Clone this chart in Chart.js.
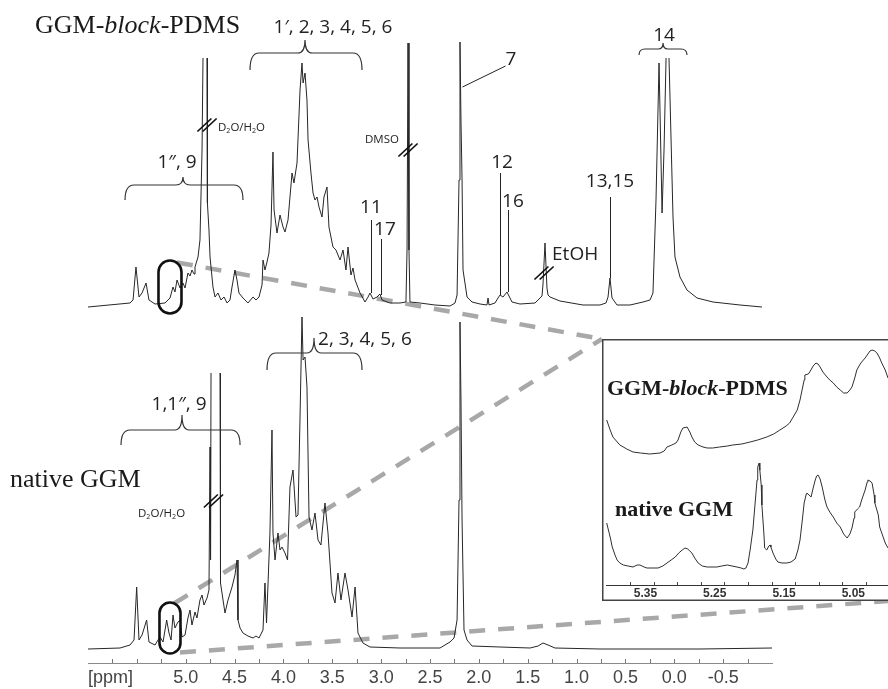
<!DOCTYPE html>
<html><head><meta charset="utf-8">
<script src="https://cdn.jsdelivr.net/npm/chart.js@4.4.1/dist/chart.umd.min.js"></script>
<style>
html,body{margin:0;padding:0;background:#fff;overflow:hidden;width:888px;height:689px;}
#wrap{position:relative;width:888px;height:689px;overflow:hidden;background:#fff;}
#main{position:absolute;left:0;top:0;width:888px;height:689px;}
#inset{position:absolute;left:602px;top:339px;width:300px;height:262px;}
</style></head><body>
<div id="wrap">
<canvas id="main" width="888" height="689"></canvas>
<canvas id="inset" width="300" height="262"></canvas>
</div>
<script>
// ---------------- DATA (chemical shift in ppm, intensity in a.u.) ----------------
const topPpm = [6.000,5.570,5.539,5.509,5.478,5.447,5.406,5.376,5.314,5.212,
5.161,5.130,5.110,5.089,5.058,5.028,5.007,4.977,4.956,4.936,
4.915,4.905,4.874,4.854,4.833,4.823,4.802,4.782,4.778,4.762,
4.751,4.721,4.700,4.670,4.639,4.608,4.577,4.547,4.526,4.496,
4.475,4.455,4.414,4.363,4.311,4.281,4.250,4.219,4.209,4.189,
4.168,4.148,4.127,4.107,4.096,4.066,4.035,4.004,3.984,3.953,
3.912,3.892,3.861,3.830,3.810,3.799,3.779,3.759,3.748,3.718,
3.697,3.677,3.656,3.636,3.605,3.585,3.554,3.534,3.493,3.462,
3.421,3.390,3.360,3.339,3.309,3.288,3.267,3.216,3.165,3.134,
3.114,3.083,3.042,3.012,2.991,2.909,2.807,2.746,2.735,2.725,
2.715,2.705,2.602,2.449,2.295,2.244,2.223,2.203,2.193,2.183,
2.172,2.162,2.121,2.070,1.988,1.917,1.906,1.896,1.835,1.804,
1.783,1.753,1.712,1.661,1.579,1.425,1.354,1.344,1.323,1.303,
1.292,1.272,1.170,0.934,0.760,0.699,0.678,0.658,0.637,0.586,
0.453,0.320,0.248,0.218,0.187,0.156,0.125,0.105,0.084,0.069,
0.054,0.013,-0.007,-0.058,-0.130,-0.233,-0.396,-0.673,-0.898];
const topIntensity = [-2,2,5,38,8,12,22,5,1,2,
7,18,13,25,17,22,17,32,29,35,
31,38,48,65,155,247,null,247,102,75,
48,18,8,12,5,8,2,5,18,35,
25,12,7,2,8,5,8,20,45,35,
43,52,80,153,95,72,90,78,73,85,
132,122,142,215,242,222,232,205,165,132,
112,105,108,98,88,108,118,78,58,55,
45,55,35,58,30,37,25,12,3,8,
12,6,8,11,5,2,2,3,55,262,
55,3,2,0,-1,2,10,125,263,185,
125,35,8,3,1,0,7,0,2,7,
10,8,13,3,1,2,9,20,62,17,
10,8,4,0,0,2,8,27,7,0,
0,3,5,12,105,242,92,155,247,null,
247,88,48,28,15,7,3,0,-2];

const botPpm = [6.000,5.672,5.570,5.529,5.502,5.478,5.447,5.400,5.376,5.314,
5.283,5.263,5.232,5.195,5.171,5.150,5.130,5.110,5.079,5.058,
5.038,5.007,4.977,4.956,4.936,4.905,4.885,4.854,4.833,4.813,
4.782,4.762,4.751,4.746,4.741,4.695,4.649,4.644,4.618,4.598,
4.567,4.526,4.496,4.475,4.465,4.444,4.414,4.363,4.311,4.281,
4.250,4.209,4.189,4.173,4.138,4.117,4.107,4.086,4.056,4.035,
4.015,3.984,3.958,3.933,3.902,3.871,3.851,3.830,3.810,3.799,
3.779,3.759,3.738,3.708,3.677,3.646,3.616,3.575,3.544,3.503,
3.472,3.442,3.411,3.370,3.339,3.298,3.267,3.237,3.186,3.114,
2.807,2.398,2.295,2.254,2.223,2.203,2.193,2.183,2.172,2.152,
2.121,2.070,1.783,1.476,1.394,1.344,1.292,1.221,0.760,0.248,
-0.263,-1.000];
const botIntensity = [-1,0,3,8,61,8,13,28,6,3,
8,11,6,28,15,8,33,20,26,28,
11,13,30,38,23,36,30,48,53,43,
50,58,201,88,275,null,275,65,48,35,
48,61,73,88,28,20,15,12,10,12,
10,18,65,25,115,218,115,88,115,98,
101,95,88,161,178,131,133,231,331,288,
291,261,131,118,135,108,103,145,115,55,
45,75,48,75,58,31,61,15,5,1,
0,0,6,10,28,148,326,248,128,18,
8,2,1,0,2,5,3,0,-1,-1,
-1,0];

const insetTopPpm = [5.406,5.401,5.397,5.387,5.377,5.368,5.357,5.344,5.329,5.323,
5.319,5.312,5.306,5.303,5.299,5.296,5.290,5.286,5.283,5.279,
5.274,5.267,5.261,5.253,5.243,5.232,5.224,5.211,5.199,5.188,
5.175,5.165,5.156,5.147,5.142,5.136,5.131,5.127,5.124,5.121,
5.120,5.115,5.113,5.108,5.104,5.101,5.098,5.094,5.088,5.084,
5.079,5.074,5.069,5.064,5.059,5.055,5.052,5.048,5.045,5.041,
5.038,5.033,5.030,5.026,5.023,5.019,5.016,5.012,5.009,5.004,5.000];
const insetTopIntensity = [35,25,18,10,6,3,2,1,2,4,
8,10,12,15,23,27,28,23,18,13,
10,8,7,7,8,9,10,11,13,15,
18,21,25,29,32,39,45,55,65,75,
80,81,83,89,92,91,88,83,78,75,
72,68,65,62,62,65,68,77,85,90,
93,97,100,104,105,104,102,97,92,85,77];

const insetBotPpm = [5.406,5.401,5.398,5.394,5.391,5.387,5.382,5.375,5.368,5.362,
5.358,5.352,5.348,5.341,5.332,5.325,5.319,5.313,5.307,5.302,
5.297,5.293,5.289,5.286,5.283,5.279,5.274,5.268,5.261,5.254,
5.247,5.240,5.232,5.225,5.218,5.212,5.208,5.205,5.202,5.199,
5.195,5.192,5.189,5.188,5.186,5.185,5.183,5.182,5.179,5.178,
5.175,5.172,5.170,5.169,5.166,5.162,5.159,5.153,5.146,5.140,
5.134,5.130,5.127,5.124,5.121,5.118,5.117,5.114,5.111,5.108,
5.105,5.103,5.101,5.098,5.095,5.091,5.088,5.084,5.079,5.074,
5.069,5.064,5.059,5.055,5.052,5.049,5.048,5.044,5.041,5.038,
5.033,5.030,5.029,5.026,5.023,5.020,5.019,5.014,5.012,5.007,
5.004,5.000];
const insetBotIntensity = [45,31,21,13,8,5,3,2,1,3,
3,1,0,0,0,2,5,8,11,15,
18,20,19,17,15,10,5,2,1,1,
1,2,3,2,1,0,-1,0,5,18,
38,63,88,101,105,98,83,63,33,20,
18,22,23,21,15,9,6,5,5,6,
9,18,28,46,65,74,75,73,71,80,
88,92,93,89,81,68,61,56,51,45,
41,34,30,34,40,50,56,59,61,68,
78,86,88,87,85,73,65,53,41,31,
25,20];

const axisLabelValues = [5.0,4.5,4.0,3.5,3.0,2.5,2.0,1.5,1.0,0.5,0.0,-0.5];
const axisTickMarks = [5.75,5.5,5.25,5.0,4.75,4.5,4.25,4.0,3.75,3.5,3.25,3.0,2.75,2.5,2.25,2.0,1.75,1.5,1.25,1.0,0.75,0.5,0.25,0.0,-0.25,-0.5,-0.75];
const insetLabelValues = [5.35,5.25,5.15,5.05];
const insetTickMarks = [5.372,5.338,5.304,5.270,5.236,5.202,5.168,5.134,5.100,5.066,5.032];

// ---------------- ANNOTATIONS (positions in ppm / intensity units) ----------------
const SANS = '"Open Sans","Liberation Sans",sans-serif';
const SERIF = '"Liberation Serif","Times New Roman",serif';
const INSET = {left:602, top:339, width:300, height:262};

const topLabels = [
  {text:'1\u2032, 2, 3, 4, 5, 6', ppm:3.493, v:272},
  {text:'1\u2033, 9', ppm:5.089, v:137},
  {text:'14', ppm:0.105, v:264},
  {text:'11', ppm:3.104, v:92},
  {text:'17', ppm:2.961, v:70},
  {text:'12', ppm:1.763, v:137},
  {text:'16', ppm:1.651, v:98},
  {text:'13,15', ppm:0.658, v:118},
  {text:'7', ppm:1.671, v:240},
  {text:'EtOH', ppm:1.251, v:45, left:true}
];
const botLabels = [
  {text:'1,1\u2033, 9', ppm:5.068, v:238},
  {text:'2, 3, 4, 5, 6', ppm:3.646, v:303, left:true}
];
const topBraces = [
  {left:5.621, right:4.414, tip:5.028, end:105, bar:120, top:128},
  {left:4.342, right:3.196, tip:3.779, end:235, bar:252, top:265},
  {left:0.361, right:-0.130, tip:0.115, end:250, bar:256, top:262}
];
const botBraces = [
  {left:5.662, right:4.444, tip:5.038, end:203, bar:218, top:233},
  {left:4.168, right:3.196, tip:3.687, end:278, bar:295, top:310}
];
const topLeaders = [
  {x1:3.104, v1:85, x2:3.104, v2:12},
  {x1:3.001, v1:66, x2:3.001, v2:10},
  {x1:1.783, v1:132, x2:1.783, v2:10},
  {x1:1.702, v1:95, x2:1.702, v2:13},
  {x1:0.660, v1:108, x2:0.660, v2:27},
  {x1:2.175, v1:218, x2:1.733, v2:239}
];
const topBreaks = [{ppm:4.782, v:180}, {ppm:2.725, v:155}, {ppm:1.333, v:32}];
const botBreaks = [{ppm:4.716, v:147}];
const solventLabels = [
  {parts:[['D'],['2',1],['O/H'],['2',1],['O']], ppm:4.670, v:174, axis:'yTop'},
  {parts:[['DMSO']], ppm:3.165, v:162, axis:'yTop'},
  {parts:[['D'],['2',1],['O/H'],['2',1],['O']], ppm:5.488, v:131, axis:'yBot'}
];
const topStadium = {ppm:5.161, v:18, w:23, h:53};
const botStadium = {ppm:5.161, v:20, w:21, h:51};

// ---------------- helpers ----------------
function xy(xs, ys){ return xs.map((x,i)=>({x:x, y:ys[i]})); }
function drawRich(ctx, parts, x, y, size, family, weight){
  let cx = x;
  parts.forEach(p=>{
    const sub = p[1] === 1;
    const it = p[1] === 'i';
    const s = sub ? size*0.62 : size;
    ctx.font = (it ? 'italic ' : '') + (weight||'') + ' ' + s + 'px ' + family;
    ctx.fillText(p[0], cx, y + (sub ? size*0.2 : 0));
    cx += ctx.measureText(p[0]).width;
  });
}
function brace(ctx, xl, xr, xm, yEnd, yBar, yTip){
  const r = Math.min(9, Math.abs(yEnd - yBar));
  ctx.beginPath();
  ctx.moveTo(xl, yEnd);
  ctx.quadraticCurveTo(xl, yBar, xl + r, yBar);
  ctx.lineTo(xm - r*0.8, yBar);
  ctx.quadraticCurveTo(xm, yBar, xm, yTip);
  ctx.quadraticCurveTo(xm, yBar, xm + r*0.8, yBar);
  ctx.lineTo(xr - r, yBar);
  ctx.quadraticCurveTo(xr, yBar, xr, yEnd);
  ctx.stroke();
}
function breakMark(ctx, cx, cy){
  ctx.beginPath();
  [-2.6, 2.6].forEach(o=>{
    ctx.moveTo(cx + o - 7, cy + 6.5);
    ctx.lineTo(cx + o + 7, cy - 6.5);
  });
  ctx.stroke();
}
function stadiumPx(chart, s, axis){
  return {cx: chart.scales.x.getPixelForValue(s.ppm), cy: chart.scales[axis].getPixelForValue(s.v), w:s.w, h:s.h};
}

const mainDecor = {
  id:'mainDecor',
  beforeDatasetsDraw(chart){
    const ctx = chart.ctx;
    const t = stadiumPx(chart, topStadium, 'yTop');
    const b = stadiumPx(chart, botStadium, 'yBot');
    const segs = [
      [t.cx + 7, t.cy - t.h/2 + 2, INSET.left, INSET.top],
      [b.cx + 4, b.cy - b.h/2 + 1, INSET.left, INSET.top],
      [b.cx + 10, b.cy + b.h/2 - 1, INSET.left + INSET.width, INSET.top + INSET.height - 1]
    ];
    ctx.save();
    ctx.strokeStyle = '#a8a8a8'; ctx.lineWidth = 4.5; ctx.setLineDash([16,13]);
    segs.forEach(s=>{ ctx.beginPath(); ctx.moveTo(s[0], s[1]); ctx.lineTo(s[2], s[3]); ctx.stroke(); });
    ctx.restore();
  },
  afterDatasetsDraw(chart){
    const ctx = chart.ctx, X = chart.scales.x, YT = chart.scales.yTop, YB = chart.scales.yBot;
    ctx.save();
    ctx.strokeStyle = '#111'; ctx.lineWidth = 2.6;
    [stadiumPx(chart, topStadium, 'yTop'), stadiumPx(chart, botStadium, 'yBot')].forEach(s=>{
      ctx.beginPath(); ctx.roundRect(s.cx - s.w/2, s.cy - s.h/2, s.w, s.h, s.w/2); ctx.stroke();
    });
    ctx.strokeStyle = '#333'; ctx.lineWidth = 1.2;
    topBraces.forEach(b=>brace(ctx, X.getPixelForValue(b.left), X.getPixelForValue(b.right), X.getPixelForValue(b.tip), YT.getPixelForValue(b.end), YT.getPixelForValue(b.bar), YT.getPixelForValue(b.top)));
    botBraces.forEach(b=>brace(ctx, X.getPixelForValue(b.left), X.getPixelForValue(b.right), X.getPixelForValue(b.tip), YB.getPixelForValue(b.end), YB.getPixelForValue(b.bar), YB.getPixelForValue(b.top)));
    ctx.strokeStyle = '#222'; ctx.lineWidth = 1;
    topLeaders.forEach(l=>{
      ctx.beginPath();
      ctx.moveTo(Math.round(X.getPixelForValue(l.x1)) + 0.5, YT.getPixelForValue(l.v1));
      ctx.lineTo(Math.round(X.getPixelForValue(l.x2)) + 0.5, YT.getPixelForValue(l.v2));
      ctx.stroke();
    });
    ctx.strokeStyle = '#111'; ctx.lineWidth = 1.7;
    topBreaks.forEach(m=>breakMark(ctx, X.getPixelForValue(m.ppm), YT.getPixelForValue(m.v)));
    botBreaks.forEach(m=>breakMark(ctx, X.getPixelForValue(m.ppm), YB.getPixelForValue(m.v)));
    ctx.fillStyle = '#222'; ctx.textBaseline = 'alphabetic';
    ctx.font = '19px ' + SANS;
    topLabels.forEach(l=>{ ctx.textAlign = l.left ? 'left' : 'center'; ctx.fillText(l.text, X.getPixelForValue(l.ppm), YT.getPixelForValue(l.v)); });
    botLabels.forEach(l=>{ ctx.textAlign = l.left ? 'left' : 'center'; ctx.fillText(l.text, X.getPixelForValue(l.ppm), YB.getPixelForValue(l.v)); });
    ctx.textAlign = 'left';
    solventLabels.forEach(s=>drawRich(ctx, s.parts, X.getPixelForValue(s.ppm), chart.scales[s.axis].getPixelForValue(s.v), 11.5, SANS, ''));
    ctx.fillStyle = '#1a1a1a';
    drawRich(ctx, [['GGM-'],['block','i'],['-PDMS']], 35, 33, 26, SERIF, '');
    drawRich(ctx, [['native GGM']], 10, 487, 26, SERIF, '');
    const bottom = chart.chartArea.bottom;
    ctx.strokeStyle = '#777'; ctx.lineWidth = 1;
    axisTickMarks.forEach(v=>{
      const p = Math.round(X.getPixelForValue(v)) + 0.5;
      ctx.beginPath(); ctx.moveTo(p, bottom); ctx.lineTo(p, bottom - 4); ctx.stroke();
    });
    ctx.fillStyle = '#444'; ctx.font = '18px "Liberation Sans",Arial,sans-serif';
    ctx.textAlign = 'center'; ctx.textBaseline = 'middle';
    ctx.fillText('[ppm]', X.getPixelForValue(5.77), bottom + 15);
    ctx.restore();
  }
};

const lineStyle = {borderColor:'#262626', borderWidth:1, pointRadius:0, tension:0, spanGaps:false, borderJoinStyle:'round', fill:false};

new Chart(document.getElementById('main'), {
  type:'line',
  data:{datasets:[
    Object.assign({label:'GGM-block-PDMS', data:xy(topPpm, topIntensity), yAxisID:'yTop'}, lineStyle),
    Object.assign({label:'native GGM', data:xy(botPpm, botIntensity), yAxisID:'yBot'}, lineStyle)
  ]},
  options:{
    responsive:false, animation:false, devicePixelRatio:1,
    layout:{padding:{left:88, right:116, top:0, bottom:0}},
    plugins:{legend:{display:false}, tooltip:{enabled:false}},
    scales:{
      x:{type:'linear', reverse:true, min:-1.0, max:6.0,
        grid:{display:false, drawTicks:false}, border:{display:true, color:'#8a8a8a', width:1},
        afterBuildTicks:(s)=>{ s.ticks = axisLabelValues.map(v=>({value:v})); },
        afterFit:(s)=>{ s.height = 26; },
        ticks:{autoSkip:false, maxRotation:0, padding:4, color:'#444',
          font:{family:'"Liberation Sans",Arial,sans-serif', size:18},
          callback:(v)=>Number(v).toFixed(1)}
      },
      yTop:{type:'linear', display:false, min:-358, max:305},
      yBot:{type:'linear', display:false, min:-15, max:648}
    }
  },
  plugins:[mainDecor]
});

const insetDecor = {
  id:'insetDecor',
  beforeDraw(chart){
    const ctx = chart.ctx;
    ctx.save(); ctx.fillStyle = '#fff'; ctx.fillRect(0, 0, chart.width, chart.height); ctx.restore();
  },
  afterDraw(chart){
    const ctx = chart.ctx, X = chart.scales.x, bottom = chart.chartArea.bottom;
    ctx.save();
    ctx.strokeStyle = '#444'; ctx.lineWidth = 1;
    insetTickMarks.forEach(v=>{
      const p = Math.round(X.getPixelForValue(v)) + 0.5;
      ctx.beginPath(); ctx.moveTo(p, bottom); ctx.lineTo(p, bottom - 3); ctx.stroke();
    });
    ctx.fillStyle = '#1a1a1a'; ctx.textAlign = 'left'; ctx.textBaseline = 'alphabetic';
    drawRich(ctx, [['GGM-'],['block','i'],['-PDMS']], 5, 56, 22, SERIF, 'bold');
    drawRich(ctx, [['native GGM']], 13, 177, 22, SERIF, 'bold');
    ctx.strokeStyle = '#444'; ctx.lineWidth = 1.5;
    ctx.strokeRect(0.75, 0.75, chart.width - 1.5, chart.height - 1.5);
    ctx.restore();
  }
};

const insetLine = {borderColor:'#303030', borderWidth:1, pointRadius:0, tension:0, borderJoinStyle:'round', fill:false};
new Chart(document.getElementById('inset'), {
  type:'line',
  data:{datasets:[
    Object.assign({label:'GGM-block-PDMS (zoom)', data:xy(insetTopPpm, insetTopIntensity), yAxisID:'yTop'}, insetLine),
    Object.assign({label:'native GGM (zoom)', data:xy(insetBotPpm, insetBotIntensity), yAxisID:'yBot'}, insetLine)
  ]},
  options:{
    responsive:false, animation:false, devicePixelRatio:1,
    layout:{padding:{left:4, right:14, top:0, bottom:0}},
    plugins:{legend:{display:false}, tooltip:{enabled:false}},
    scales:{
      x:{type:'linear', reverse:true, min:5.0, max:5.407,
        grid:{display:false, drawTicks:false}, border:{display:true, color:'#333', width:1},
        afterBuildTicks:(s)=>{ s.ticks = insetLabelValues.map(v=>({value:v})); },
        afterFit:(s)=>{ s.height = 16; },
        ticks:{autoSkip:false, maxRotation:0, padding:1, color:'#333',
          font:{family:'"Liberation Sans",Arial,sans-serif', size:12, weight:'bold'},
          callback:(v)=>Number(v).toFixed(2)}
      },
      yTop:{type:'linear', display:false, min:-130, max:116},
      yBot:{type:'linear', display:false, min:-17, max:229}
    }
  },
  plugins:[insetDecor]
});
</script>
</body></html>
